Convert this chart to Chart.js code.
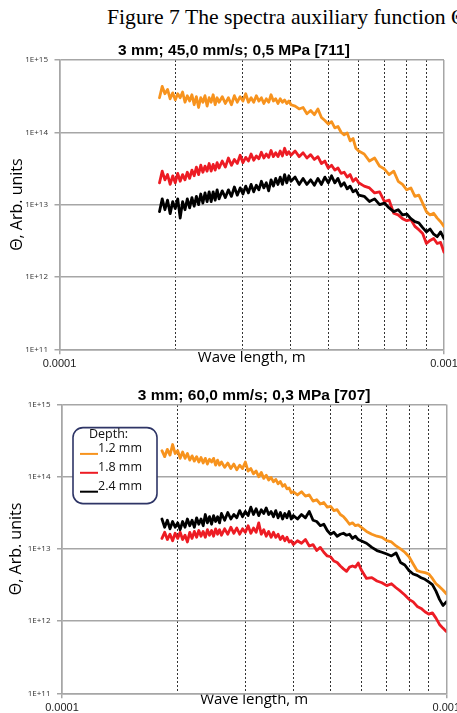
<!DOCTYPE html>
<html><head><meta charset="utf-8">
<script src="https://cdn.jsdelivr.net/npm/chart.js@4.4.1/dist/chart.umd.min.js"></script>
<style>
html,body{margin:0;padding:0;background:#fff;overflow:hidden;width:457px;height:713px;}
#caption{position:absolute;left:107px;top:6.8px;font-family:"Liberation Serif","Times New Roman",serif;font-size:21.7px;line-height:1;white-space:nowrap;color:#000;}
.cw{position:absolute;left:0;width:457px;}
canvas{display:block;}
</style></head><body>
<div id="caption">Figure 7 The spectra auxiliary function Θ</div>
<div class="cw" style="top:32px;height:338px"><canvas id="c1" width="457" height="338"></canvas></div>
<div class="cw" style="top:372px;height:341px"><canvas id="c2" width="457" height="341"></canvas></div>
<script>
// ---------- DATA ----------
const wavelength = [
  1.82e-4,1.85e-4,1.88e-4,1.91e-4,1.94e-4,1.97e-4,2.00e-4,2.03e-4,2.06e-4,2.09e-4,2.12e-4,2.15e-4,2.18e-4,2.21e-4,
  2.24e-4,2.27e-4,2.30e-4,2.33e-4,2.36e-4,2.39e-4,2.42e-4,2.45e-4,2.48e-4,2.51e-4,2.54e-4,2.57e-4,2.60e-4,
  2.65e-4,2.70e-4,2.75e-4,2.80e-4,2.85e-4,2.90e-4,2.95e-4,3.00e-4,3.05e-4,3.10e-4,3.15e-4,3.20e-4,3.25e-4,3.30e-4,
  3.35e-4,3.40e-4,3.45e-4,3.50e-4,3.55e-4,3.60e-4,3.65e-4,3.70e-4,3.75e-4,3.80e-4,3.85e-4,3.90e-4,3.95e-4,4.00e-4,
  4.1e-4,4.2e-4,4.3e-4,4.4e-4,4.5e-4,4.6e-4,4.7e-4,4.8e-4,4.9e-4,5.0e-4,5.1e-4,5.2e-4,5.3e-4,5.4e-4,5.5e-4,5.6e-4,
  5.7e-4,5.8e-4,5.9e-4,6.0e-4,
  6.2e-4,6.4e-4,6.6e-4,6.8e-4,7.0e-4,7.2e-4,7.4e-4,7.6e-4,7.8e-4,8.0e-4,8.2e-4,8.4e-4,8.6e-4,8.8e-4,9.0e-4,9.2e-4,
  9.4e-4,9.6e-4,9.8e-4,1.0e-3
];

const depthLabels = ['1.2 mm', '1.8 mm', '2.4 mm'];
const legendTitle = 'Depth:';
const chartTitles = ['3 mm; 45,0 mm/s; 0,5 MPa [711]', '3 mm; 60,0 mm/s; 0,3 MPa [707]'];
const xTitle = 'Wave length, m';
const yTitle = 'Θ, Arb. units';
const yTickValues = [1e11, 1e12, 1e13, 1e14, 1e15];
const yTickLabels = ['1E+11', '1E+12', '1E+13', '1E+14', '1E+15'];
const xTickValues = [1e-4, 1e-3];
const xTickLabels = ['0.0001', '0.001'];
const xMinorValues = [2e-4, 3e-4, 4e-4, 5e-4, 6e-4, 7e-4, 8e-4, 9e-4];

// Test 711: 45,0 mm/s; 0,5 MPa
const theta711_12 = [
  3.0e14,4.3e14,3.4e14,3.9e14,2.9e14,3.5e14,2.8e14,3.4e14,3.0e14,3.6e14,2.6e14,3.2e14,2.7e14,3.3e14,
  2.4e14,3.1e14,2.2e14,3.0e14,2.6e14,3.2e14,2.3e14,3.0e14,2.6e14,3.3e14,2.4e14,3.0e14,2.6e14,
  3.1e14,2.5e14,3.0e14,2.4e14,3.2e14,2.6e14,3.1e14,2.7e14,3.4e14,2.6e14,3.0e14,2.6e14,3.2e14,2.7e14,
  3.0e14,2.5e14,2.9e14,2.6e14,3.3e14,2.7e14,2.9e14,2.5e14,2.9e14,2.6e14,2.8e14,2.5e14,2.7e14,2.4e14,
  2.3e14,2.1e14,2.2e14,1.8e14,2.0e14,1.75e14,2.1e14,1.6e14,1.45e14,1.3e14,1.4e14,1.15e14,1.2e14,1.0e14,9.2e13,9.8e13,
  7.6e13,8.2e13,6.0e13,5.5e13,
  5.0e13,4.0e13,4.4e13,3.4e13,3.1e13,2.6e13,2.9e13,2.1e13,1.9e13,1.6e13,1.7e13,1.3e13,1.35e13,1.05e13,8.0e12,7.2e12,
  7.6e12,6.5e12,5.8e12,5.0e12
];
const theta711_18 = [
  2.0e13,2.9e13,2.2e13,2.6e13,1.9e13,2.5e13,2.0e13,2.7e13,2.1e13,2.6e13,2.2e13,2.8e13,2.3e13,3.0e13,
  2.5e13,3.3e13,2.6e13,3.5e13,2.8e13,3.4e13,2.9e13,3.7e13,2.9e13,3.6e13,3.0e13,3.8e13,3.2e13,
  4.0e13,3.3e13,4.4e13,3.5e13,4.2e13,3.7e13,4.8e13,3.8e13,4.5e13,4.0e13,5.0e13,4.1e13,4.7e13,4.3e13,
  5.3e13,4.4e13,5.0e13,4.5e13,5.6e13,4.6e13,5.2e13,4.6e13,5.5e13,4.7e13,6.0e13,4.9e13,5.4e13,4.8e13,
  5.5e13,4.6e13,5.2e13,4.4e13,4.9e13,4.2e13,4.6e13,3.7e13,4.0e13,3.2e13,3.5e13,3.0e13,3.2e13,2.7e13,2.8e13,2.4e13,
  2.6e13,2.1e13,2.3e13,2.0e13,
  1.8e13,1.7e13,1.45e13,1.5e13,1.1e13,1.15e13,7.6e12,7.2e12,6.4e12,6.0e12,6.2e12,5.0e12,4.5e12,4.0e12,2.9e12,3.2e12,
  3.4e12,2.9e12,3.0e12,2.2e12
];
const theta711_24 = [
  8.0e12,1.2e13,8.5e12,1.15e13,7.5e12,1.1e13,8.8e12,1.2e13,6.5e12,1.1e13,8.5e12,1.2e13,9.0e12,1.25e13,
  9.5e12,1.3e13,1.0e13,1.4e13,1.05e13,1.45e13,1.1e13,1.5e13,1.1e13,1.5e13,1.15e13,1.6e13,1.2e13,
  1.55e13,1.25e13,1.6e13,1.3e13,1.75e13,1.35e13,1.7e13,1.4e13,1.8e13,1.45e13,1.9e13,1.5e13,1.85e13,1.6e13,
  2.1e13,1.7e13,2.0e13,1.55e13,2.2e13,1.8e13,2.3e13,1.9e13,2.4e13,1.9e13,2.6e13,2.0e13,2.5e13,2.1e13,
  2.4e13,1.9e13,2.3e13,1.9e13,2.2e13,1.85e13,2.3e13,1.9e13,2.4e13,2.0e13,2.5e13,2.0e13,2.3e13,1.8e13,2.0e13,1.65e13,
  1.8e13,1.5e13,1.6e13,1.35e13,
  1.3e13,1.1e13,1.2e13,1.0e13,1.05e13,9.0e12,8.0e12,8.5e12,7.2e12,7.4e12,6.4e12,5.8e12,5.6e12,4.8e12,4.2e12,4.6e12,
  3.9e12,3.6e12,4.2e12,3.4e12
];

// Test 707: 60,0 mm/s; 0,3 MPa
const theta707_12 = [
  2.3e14,1.9e14,2.4e14,2.0e14,2.8e14,2.1e14,2.3e14,1.8e14,2.2e14,1.8e14,2.1e14,1.7e14,1.95e14,1.65e14,
  1.9e14,1.6e14,1.85e14,1.55e14,1.8e14,1.5e14,1.75e14,1.6e14,1.8e14,1.45e14,1.7e14,1.45e14,1.6e14,
  1.35e14,1.55e14,1.3e14,1.5e14,1.25e14,1.45e14,1.3e14,1.6e14,1.2e14,1.3e14,1.1e14,1.2e14,1.0e14,1.15e14,
  9.5e13,1.05e14,9.0e13,9.8e13,8.5e13,9.2e13,8.0e13,8.6e13,7.4e13,7.8e13,6.8e13,7.0e13,6.0e13,6.2e13,
  5.6e13,6.2e13,5.4e13,5.6e13,4.6e13,4.8e13,4.2e13,4.4e13,3.8e13,3.9e13,3.4e13,3.5e13,3.0e13,2.8e13,2.5e13,2.2e13,
  2.3e13,2.1e13,2.15e13,2.0e13,
  1.75e13,1.6e13,1.5e13,1.45e13,1.3e13,1.25e13,1.1e13,1.0e13,9.0e12,7.8e12,6.2e12,5.0e12,4.8e12,4.7e12,4.5e12,3.9e12,
  3.3e12,3.0e12,2.7e12,2.4e12
];
const theta707_18 = [
  1.4e13,1.7e13,1.35e13,1.6e13,1.3e13,1.65e13,1.4e13,1.7e13,1.35e13,1.55e13,1.25e13,1.7e13,1.4e13,1.75e13,
  1.45e13,1.8e13,1.5e13,1.75e13,1.45e13,1.85e13,1.55e13,1.8e13,1.5e13,1.9e13,1.6e13,1.85e13,1.55e13,
  1.9e13,1.6e13,2.0e13,1.65e13,1.95e13,1.6e13,1.9e13,1.7e13,2.1e13,1.65e13,1.95e13,1.7e13,2.3e13,1.6e13,
  1.85e13,1.5e13,1.75e13,1.45e13,1.7e13,1.45e13,1.6e13,1.35e13,1.5e13,1.3e13,1.45e13,1.25e13,1.3e13,1.15e13,
  1.3e13,1.2e13,1.35e13,1.1e13,1.15e13,9.5e12,1.05e13,9.0e12,8.0e12,7.8e12,6.8e12,6.5e12,5.8e12,5.3e12,4.9e12,5.6e12,
  5.8e12,5.6e12,6.4e12,5.2e12,
  3.9e12,4.0e12,3.6e12,3.4e12,3.1e12,3.3e12,2.9e12,2.6e12,2.3e12,2.0e12,1.85e12,1.6e12,1.5e12,1.35e12,1.25e12,1.3e12,
  1.1e12,9.0e11,8.0e11,7.2e11
];
const theta707_24 = [
  2.6e13,2.0e13,2.5e13,1.9e13,2.4e13,2.0e13,2.3e13,1.85e13,2.4e13,2.0e13,2.6e13,2.1e13,2.5e13,2.0e13,
  2.7e13,2.2e13,2.6e13,2.1e13,3.0e13,2.3e13,2.8e13,2.2e13,2.9e13,2.4e13,2.8e13,2.3e13,3.1e13,
  2.5e13,3.2e13,2.6e13,3.0e13,2.7e13,3.4e13,2.8e13,3.3e13,2.9e13,3.8e13,3.0e13,3.6e13,2.9e13,3.5e13,
  3.1e13,3.7e13,3.0e13,3.3e13,2.8e13,3.4e13,2.7e13,3.2e13,2.6e13,3.1e13,2.7e13,3.3e13,2.6e13,2.9e13,
  2.6e13,3.0e13,2.7e13,3.3e13,2.5e13,2.4e13,2.1e13,2.2e13,1.8e13,1.6e13,1.7e13,1.5e13,1.6e13,1.65e13,1.55e13,1.6e13,
  1.4e13,1.5e13,1.35e13,1.3e13,
  1.2e13,1.05e13,9.5e12,9.0e12,8.5e12,8.0e12,8.8e12,6.5e12,6.0e12,5.0e12,4.5e12,4.3e12,4.0e12,3.8e12,3.5e12,3.2e12,
  2.6e12,2.0e12,1.65e12,1.85e12
];

const seriesColors = ['#f7931e', '#ed1c24', '#000000'];

// ---------- LEGEND PLUGIN ----------
const depthLegend = {
  id: 'depthLegend',
  afterDatasetsDraw(chart, args, opts) {
    if (!opts || !opts.show) return;
    const {ctx, chartArea: ca} = chart;
    ctx.save();
    const bx = ca.left + 11, by = ca.top + 23, bw = 84, bh = 76, r = 10;
    ctx.beginPath();
    if (ctx.roundRect) ctx.roundRect(bx, by, bw, bh, r);
    else ctx.rect(bx, by, bw, bh);
    ctx.fillStyle = '#ffffff';
    ctx.fill();
    ctx.lineWidth = 1.6;
    ctx.strokeStyle = '#2e3566';
    ctx.stroke();
    ctx.fillStyle = '#111';
    ctx.font = '12.5px "Open Sans", "Noto Sans", sans-serif';
    ctx.textBaseline = 'middle';
    ctx.textAlign = 'left';
    ctx.fillText(opts.title, ca.left + 27, ca.top + 30);
    chart.data.datasets.forEach((ds, i) => {
      const ly = ca.top + 49.3 + i * 18.9;
      ctx.strokeStyle = ds.borderColor;
      ctx.lineWidth = 2;
      ctx.beginPath();
      ctx.moveTo(ca.left + 18, ly);
      ctx.lineTo(ca.left + 36, ly);
      ctx.stroke();
      ctx.fillText(ds.label, ca.left + 36, ly - 5.5);
    });
    ctx.restore();
  }
};

// ---------- CHART FACTORY ----------
function makeChart(id, title, values, g) {
  const datasets = values.map((v, i) => ({
    label: depthLabels[i],
    data: v,
    borderColor: seriesColors[i],
    backgroundColor: seriesColors[i],
    borderWidth: 2.8,
    pointRadius: 0,
    tension: 0,
    borderJoinStyle: 'round',
    borderCapStyle: 'round',
    fill: false,
    order: 2 - i,
    xAxisID: 'x',
    yAxisID: 'y'
  }));
  return new Chart(document.getElementById(id), {
    type: 'line',
    data: { labels: wavelength, datasets },
    plugins: [depthLegend],
    options: {
      responsive: false,
      animation: false,
      devicePixelRatio: 1,
      events: [],
      layout: { padding: { left: g.padL, right: g.padR, top: 0, bottom: 0 } },
      plugins: {
        legend: { display: false },
        tooltip: { enabled: false },
        title: {
          display: true,
          text: title,
          color: '#000',
          fullSize: g.titleFull,
          font: { family: 'Liberation Sans, Arial, sans-serif', size: 15.5, weight: 'bold', lineHeight: 1.2 },
          padding: { top: g.titleTop, bottom: g.titleBottom }
        },
        depthLegend: { show: g.legend, title: legendTitle }
      },
      scales: {
        x: {
          type: 'logarithmic',
          position: 'bottom',
          min: 1e-4, max: 1e-3,
          afterBuildTicks: s => { s.ticks = xTickValues.map(v => ({ value: v })); },
          afterFit: s => { s.height = g.xHeight; s.paddingLeft = 0; s.paddingRight = 0; },
          ticks: {
            autoSkip: false, maxRotation: 0, minRotation: 0,
            padding: g.xTickPad,
            color: '#222',
            font: { family: 'Liberation Sans, Arial, sans-serif', size: 11, lineHeight: 1.2 },
            callback: (v, i) => xTickLabels[i]
          },
          grid: { color: '#a6a6a6', lineWidth: 1.5, drawTicks: true, tickLength: 5, tickColor: '#a6a6a6' },
          border: { color: '#a6a6a6', width: 1.5 },
          title: {
            display: true, text: xTitle, color: '#000',
            font: { family: '"Open Sans", "Noto Sans", sans-serif', size: 15, lineHeight: 1.2 },
            padding: { top: 0, bottom: g.xTitlePad }
          }
        },
        xMinor: {
          type: 'logarithmic',
          position: 'top',
          min: 1e-4, max: 1e-3,
          afterBuildTicks: s => { s.ticks = xMinorValues.map(v => ({ value: v })); },
          afterFit: s => { s.height = 0; s.paddingLeft = 0; s.paddingRight = 0; },
          ticks: { display: false },
          grid: { color: '#333', lineWidth: 1, drawTicks: false },
          border: { display: false, dash: [2, 2] }
        },
        y: {
          type: 'logarithmic',
          position: 'left',
          min: 1e11, max: 1e15,
          afterBuildTicks: s => { s.ticks = yTickValues.map(v => ({ value: v })); },
          afterFit: s => { s.width = g.yWidth; s.paddingTop = 0; s.paddingBottom = 0; },
          ticks: {
            padding: 6.5,
            color: '#333',
            font: { family: '"Open Sans", "Noto Sans", sans-serif', size: 8, lineHeight: 1.2 },
            callback: (v, i) => yTickLabels[i]
          },
          grid: { color: '#a6a6a6', lineWidth: 1.5, drawTicks: true, tickLength: 5, tickColor: '#a6a6a6' },
          border: { color: '#a6a6a6', width: 1.5 },
          title: {
            display: true, text: yTitle, color: '#000',
            font: { family: '"Open Sans", "Noto Sans", sans-serif', size: 16, lineHeight: 1.2 },
            padding: { top: g.yTitlePad, bottom: 0 }
          }
        }
      }
    }
  });
}

makeChart('c1', chartTitles[0], [theta711_12, theta711_18, theta711_24], {
  padL: 24, padR: 13, yWidth: 35.5, yTitlePad: -16.6, titleFull: true,
  titleTop: 9, titleBottom: 0.3, xHeight: 20.7, xTitlePad: 3, xTickPad: 2.6, legend: false
});
makeChart('c2', chartTitles[1], [theta707_12, theta707_18, theta707_24], {
  padL: 0, padR: 10.7, yWidth: 62, yTitlePad: 7.1, titleFull: false,
  titleTop: 14, titleBottom: 0, xHeight: 19.7, xTitlePad: 4, xTickPad: 3.4, legend: true
});
</script>
</body></html>
